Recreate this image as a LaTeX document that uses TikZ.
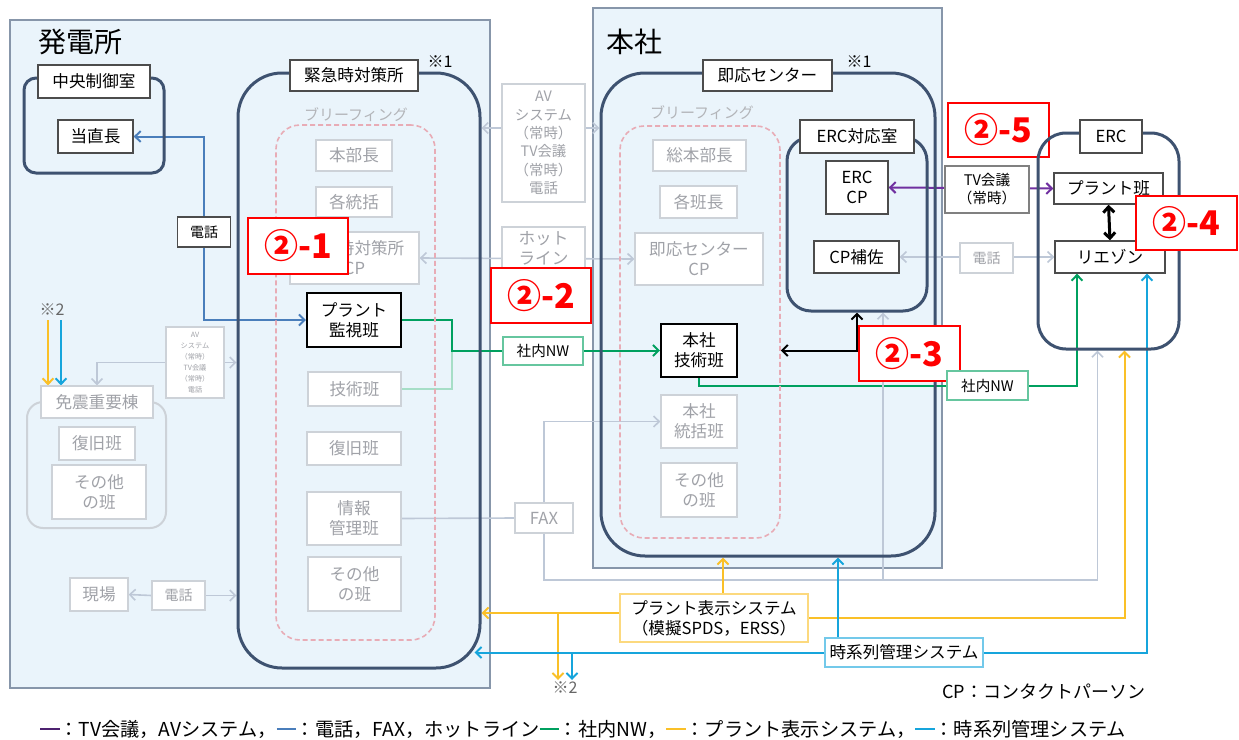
\documentclass[tikz,border=0pt]{standalone}
\usepackage{fontspec}
\setmainfont{Noto Sans CJK JP}
\usetikzlibrary{arrows.meta,calc}

\definecolor{bgblue}{RGB}{234,244,251}
\definecolor{framec}{RGB}{135,150,170}
\definecolor{grpc}{RGB}{62,82,112}
\definecolor{gboxc}{RGB}{205,210,216}
\definecolor{gtextc}{RGB}{160,162,168}
\definecolor{glinec}{RGB}{190,200,215}
\definecolor{pinkc}{RGB}{232,172,182}
\definecolor{telc}{RGB}{74,126,187}
\definecolor{nwc}{RGB}{0,160,95}
\definecolor{psc}{RGB}{250,192,40}
\definecolor{tsc}{RGB}{22,165,220}
\definecolor{tvc}{RGB}{112,48,160}
\definecolor{redc}{RGB}{255,0,0}

\pgfdeclarelayer{bg}
\pgfdeclarelayer{lines}
\pgfsetlayers{bg,lines,main}

\tikzset{
  sz/.style 2 args={minimum width=#1*0.5pt, minimum height=#2*0.5pt},
  box/.style={draw=black!70, fill=white, line width=0.7pt, inner sep=0pt, align=center, font=\fontsize{8.3}{10}\selectfont},
  gbox/.style={box, draw=gboxc, text=gtextc},
  kbox/.style={box, draw=black, line width=1pt},
  grp/.style={draw=grpc, line width=1.5pt, rounded corners=#1},
  grp/.default=8pt,
  ggrp/.style={draw=gboxc, line width=1pt, rounded corners=#1},
  ggrp/.default=8pt,
  brief/.style={draw=pinkc, line width=0.8pt, dash pattern=on 2.5pt off 1.5pt, rounded corners=#1},
  brief/.default=12pt,
  redlbl/.style={draw=redc, fill=white, line width=1pt, text=redc, font=\bfseries\fontsize{17}{20}\selectfont},
  title/.style={font=\fontsize{14}{16}\selectfont, anchor=west, inner sep=0pt},
  note/.style={font=\fontsize{8}{10}\selectfont, inner sep=0pt},
  brieftxt/.style={font=\fontsize{7.5}{9}\selectfont, text=gtextc!80, inner sep=0pt},
  nwbox/.style={box, draw=nwc!60},
  psbox/.style={box, draw=psc!60},
  tsbox/.style={box, draw=tsc!60},
  telline/.style={draw=telc, line width=1pt},
  gline/.style={draw=glinec, line width=0.8pt},
  nwline/.style={draw=nwc, line width=1pt},
  psline/.style={draw=psc, line width=1pt},
  tsline/.style={draw=tsc, line width=1pt},
  tvline/.style={draw=tvc, line width=1pt},
  blkline/.style={draw=black, line width=1pt},
}

\begin{document}
\begin{tikzpicture}[x=0.5pt,y=-0.5pt,>={Straight Barb[length=2.8pt,width=5.5pt]}]
\useasboundingbox (0,0) rectangle (1239,740);

% 発電所
\node[title] (hatsuden) at (38,42) {発電所};
\node[grp=6pt, sz={140}{95}] (chuoG) at (94,125.5) {};
\node[box, sz={112}{33}] (chuo) at (94,81.5) {中央制御室};
\node[box, sz={75}{33}] (tochoku) at (95.5,136.5) {当直長};
\node[box, sz={53}{30}, font=\fontsize{7}{8}\selectfont] (tel1) at (204,232) {電話};

\node[grp=22pt, sz={242}{595}] (kinkyuG) at (359,370.5) {};
\node[box, sz={128}{31}] (kinkyu) at (354,75.5) {緊急時対策所};
\node[note] (kome1a) at (440,62) {※1};
\node[brief, sz={159}{515}] (brief1) at (355.5,382.5) {};
\node[brieftxt] (brief1t) at (356,115) {ブリーフィング};
\node[gbox, sz={76}{31}] (honbu) at (354,155.5) {本部長};
\node[gbox, sz={76}{30}] (kakutoukatsu) at (354,202) {各統括};
\node[gbox, sz={129}{52}] (kinkyuCP) at (354.5,258) {緊急時対策所\\CP};
\node[kbox, sz={94}{54}] (kanshi) at (354,320) {プラント\\監視班};
\node[gbox, sz={93}{34}] (gijutsu) at (354.5,389) {技術班};
\node[gbox, sz={94}{33}] (fukkyu) at (354,448.5) {復旧班};
\node[gbox, sz={94}{53}] (joho) at (354,518.5) {情報\\管理班};
\node[gbox, sz={93}{54}] (sonota1) at (354.5,584) {その他\\の班};
\node[redlbl, sz={100}{56}] (r1) at (298,246) {②-1};

\node[note, text=black!60] (kome2a) at (52,310) {※2};
\node[ggrp, sz={139}{126}] (menshinG) at (96.5,465) {};
\node[gbox, sz={112}{32}] (menshin) at (97,402) {免震重要棟};
\node[gbox, sz={76}{33}] (fukkyu2) at (97,443.5) {復旧班};
\node[gbox, sz={94}{54}] (sonota2) at (99,492) {その他\\の班};
\node[gbox, sz={58}{71}, font=\fontsize{3.6}{5.5}\selectfont] (av1) at (195,362.5) {AV\\システム\\（常時）\\TV会議\\（常時）\\電話};
\node[gbox, sz={58}{33}] (genba) at (99,594.5) {現場};
\node[gbox, sz={53}{29}, font=\fontsize{7}{8}\selectfont] (tel2) at (178.5,595.5) {電話};

% 間
\node[gbox, sz={83}{118}, font=\fontsize{7.2}{9.2}\selectfont] (av2) at (543.5,143) {AV\\システム\\（常時）\\TV会議\\（常時）\\電話};
\node[gbox, sz={83}{42}] (hot) at (543.5,248) {ホット\\ライン};
\node[redlbl, sz={100}{55}] (r2) at (541,295.5) {②-2};
\node[nwbox, sz={80}{28}, font=\fontsize{7.3}{9}\selectfont] (nw1) at (543,351) {社内NW};
\node[gbox, sz={58}{30}] (fax) at (544,518) {FAX};

% 本社
\node[title] (honsha) at (606,42) {本社};
\node[grp=22pt, sz={334}{483}] (sokuoG) at (768,314.5) {};
\node[box, sz={129}{31}] (sokuo) at (767.5,75.5) {即応センター};
\node[note] (kome1b) at (859,62) {※1};
\node[brief, sz={160}{412}] (brief2) at (700,332) {};
\node[brieftxt] (brief2t) at (702,113) {ブリーフィング};
\node[gbox, sz={93}{31}] (souhonbu) at (699.5,155.5) {総本部長};
\node[gbox, sz={77}{32}] (kakuhan) at (698.5,202) {各班長};
\node[gbox, sz={128}{52}] (sokuoCP) at (699,259) {即応センター\\CP};
\node[kbox, sz={76}{53}] (hgijutsu) at (699,350.5) {本社\\技術班};
\node[gbox, sz={76}{53}] (htoukatsu) at (699,421.5) {本社\\統括班};
\node[gbox, sz={76}{54}] (sonota3) at (699,490) {その他\\の班};

\node[grp=12pt, sz={140}{174}] (erctG) at (857,224) {};
\node[box, sz={114}{33}] (erct) at (857,136.5) {ERC対応室};
\node[box, sz={62}{53}] (erccp) at (857,187.5) {ERC\\CP};
\node[box, sz={85}{32}] (cphosa) at (856.5,257) {CP補佐};

% ERC
\node[box, draw=black!50, sz={84}{47}, font=\fontsize{7.3}{9}\selectfont] (tv) at (987,189.5) {TV会議\\（常時）};
\node[gbox, sz={53}{30}, font=\fontsize{7}{8}\selectfont] (tel3) at (986.5,258) {電話};
\node[redlbl, sz={101}{54}] (r5) at (998.5,130) {②-5};
\node[grp=14pt, sz={141}{216}] (ercG) at (1108.5,241) {};
\node[box, sz={62}{33}] (erc) at (1111,136.5) {ERC};
\node[box, sz={109}{31}] (plant) at (1108.5,188.5) {プラント班};
\node[box, sz={110}{32}] (liaison) at (1110,257) {リエゾン};
\node[redlbl, sz={101}{54}] (r4) at (1186.5,223) {②-4};
\node[redlbl, sz={101}{55}] (r3) at (909.5,353.5) {②-3};
\node[nwbox, sz={81}{29}, font=\fontsize{7.3}{9}\selectfont] (nw2) at (987.5,385.5) {社内NW};

% システム
\node[psbox, sz={188}{48}] (plantsys) at (714,618) {プラント表示システム\\（模擬SPDS，ERSS）};
\node[tsbox, sz={158}{29}] (jikeiretsu) at (904,652.5) {時系列管理システム};
\node[note, text=black!60] (kome2b) at (565,688) {※2};
\node[note, anchor=west, font=\fontsize{9}{10}\selectfont] (cpnote) at (942,692) {CP：コンタクトパーソン};
\node[anchor=west, inner sep=0pt, font=\fontsize{9.6}{11}\selectfont] (legend) at (40,729)
  {\textcolor{tvc!70!black}{\rule[0.3em]{1em}{1.2pt}}：TV会議，AVシステム，\textcolor{telc}{\rule[0.3em]{1em}{1.2pt}}：電話，FAX，ホットライン\textcolor{nwc}{\rule[0.3em]{1em}{1.2pt}}：社内NW，\textcolor{psc}{\rule[0.3em]{1em}{1.2pt}}：プラント表示システム，\textcolor{tsc}{\rule[0.3em]{1em}{1.2pt}}：時系列管理システム};

\begin{pgfonlayer}{bg}
  \fill[white] (0,0) rectangle (1239,740);
  \draw[framec, fill=bgblue, line width=0.6pt] (10,20) rectangle (490,688);
  \draw[framec, fill=bgblue, line width=0.6pt] (593,8) rectangle (942,568);
\end{pgfonlayer}

\begin{pgfonlayer}{lines}
  % 電話
  \draw[telline,->] (tel1.north) |- (tochoku.east);
  \draw[telline,->] (tel1.south) |- (kanshi.west);
  \draw[gline,->] (av1.west) -| (menshin.north);
  \draw[gline,->] (av1.east) -- (av1.east -| kinkyuG.west);
  \draw[gline,->] (tel2.west) -- (genba.east);
  \draw[gline,->] (tel2.east) -- (tel2.east -| kinkyuG.west);
  \coordinate (avrow) at ($(av2.center)+(0,-15)$);
  \draw[gline,<->] (avrow -| kinkyuG.east) -- (avrow -| sokuoG.west);
  \draw[gline,<->] (kinkyuCP.east) -- (sokuoCP.west);
  \draw[gline,<->] (cphosa.east) -- (liaison.west);
  % 社内NW
  \draw[draw=nwc!35, line width=1pt] (gijutsu.east) -| ($(kanshi.east)+(50,0)$);
  \draw[nwline,->] (kanshi.east) -- ++(50,0) |- (hgijutsu.west);
  \draw[nwline,->] (hgijutsu.south) -- ++(0,8) -| ($(liaison.south)+(-33,0)$);
  % TV会議
  \draw[tvline,<->] (erccp.east) -- (plant.west);
  \draw[blkline,<->] (brief2.east |- hgijutsu.east) -| (erctG.south);
  \draw[blkline, line width=1.5pt, <->] (plant.south) -- (liaison.north);
  % FAX
  \draw[gline] (joho.east) -- (fax.west);
  \draw[gline,->] (fax.north) |- (htoukatsu.west);
  \coordinate (faxbus) at (883,580);
  \draw[gline,->] (fax.south) -- (fax.south |- faxbus) -| ($(ercG.south)+(-11,0)$);
  \draw[gline,->] (faxbus) -- (faxbus |- erctG.south);
  % プラント表示システム
  \coordinate (psrow) at ($(plantsys.west)+(0,-5)$);
  \coordinate (ps2) at (558,680);
  \coordinate (psup) at ($(plantsys.north)+(9,0)$);
  \draw[psline,->] (psrow) -- (psrow -| kinkyuG.east);
  \draw[psline,->] (ps2 |- psrow) -- (ps2);
  \draw[psline,->] (psup) -- (psup |- sokuoG.south);
  \draw[psline,->] (plantsys.east) -| ($(ercG.south)+(16,0)$);
  % 時系列管理システム
  \coordinate (ts2) at (572,680);
  \coordinate (tsup) at ($(jikeiretsu.north)+(-66,0)$);
  \draw[tsline,->] (jikeiretsu.west) -- ($(jikeiretsu.west -| kinkyuG.east)+(-7,0)$);
  \draw[tsline,->] (ts2 |- jikeiretsu.west) -- (ts2);
  \draw[tsline,->] (tsup) -- (tsup |- sokuoG.south);
  \draw[tsline,->] (jikeiretsu.east) -| ($(liaison.south)+(37,0)$);
  % ※2
  \coordinate (k2y) at (48,320);
  \coordinate (k2t) at (61,320);
  \draw[psline,->] (k2y) -- (k2y |- menshin.north);
  \draw[tsline,->] (k2t) -- (k2t |- menshin.north);
\end{pgfonlayer}
\end{tikzpicture}
\end{document}
